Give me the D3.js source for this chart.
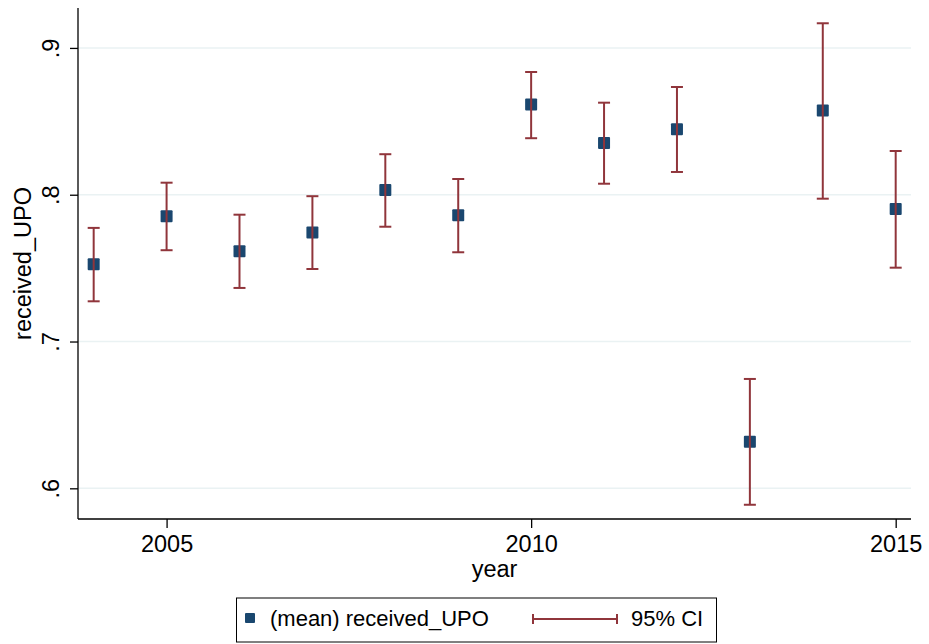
<!DOCTYPE html>
<html>
<head>
<meta charset="utf-8">
<script src="https://cdn.jsdelivr.net/npm/d3@7"></script>
<style>
  body { margin: 0; background: #fff; }
  svg text { font-family: "Liberation Sans", Arial, Helvetica, sans-serif; fill: #000; }
</style>
</head>
<body>
<svg id="chart" width="929" height="644"></svg>
<script>
// data
var years = [2004, 2005, 2006, 2007, 2008, 2009, 2010, 2011, 2012, 2013, 2014, 2015];
var means = [0.7526, 0.7853, 0.7615, 0.7742, 0.8032, 0.7860, 0.8614, 0.8353, 0.8446, 0.6318, 0.8573, 0.7903];
var ciLow = [0.7274, 0.7622, 0.7365, 0.7494, 0.7782, 0.7608, 0.8385, 0.8075, 0.8155, 0.5888, 0.7973, 0.7503];
var ciHigh = [0.7774, 0.8082, 0.7864, 0.7990, 0.8276, 0.8107, 0.8836, 0.8627, 0.8734, 0.6745, 0.9168, 0.8298];
var xTicks = [2005, 2010, 2015];
var yTicks = [0.6, 0.7, 0.8, 0.9];
var yTickLabels = [".6", ".7", ".8", ".9"];

var markerColor = "#1a476f",
    ciColor = "#90353b",
    gridColor = "#eaf2f3";

var plot = {left: 78, right: 911, top: 8, bottom: 519};

var x = d3.scaleLinear().domain([2003.785, 2015.21]).range([plot.left, plot.right]);
var y = d3.scaleLinear().domain([0.5791, 0.9272]).range([plot.bottom, plot.top]);

var svg = d3.select("#chart");

var data = years.map(function(yr, i) {
  return {year: yr, mean: means[i], lo: ciLow[i], hi: ciHigh[i]};
});

// gridlines
svg.append("g").selectAll("line")
  .data(yTicks)
  .enter().append("line")
  .attr("x1", plot.left).attr("x2", plot.right)
  .attr("y1", function(d) { return y(d); })
  .attr("y2", function(d) { return y(d); })
  .attr("stroke", gridColor)
  .attr("stroke-width", 1.6);

// y axis
var yAxis = d3.axisLeft(y)
  .tickValues(yTicks)
  .tickSize(8)
  .tickPadding(11)
  .tickFormat(function(d, i) { return yTickLabels[i]; });

var gy = svg.append("g")
  .attr("transform", "translate(" + plot.left + ",0)")
  .call(yAxis);
gy.select(".domain").attr("d", "M0," + plot.bottom + "V" + plot.top).attr("stroke", "#000").attr("stroke-width", 1.3);
gy.selectAll(".tick line").attr("stroke", "#000").attr("stroke-width", 1.3);
gy.selectAll(".tick text")
  .attr("font-size", "23.5px")
  .attr("x", null).attr("dy", null)
  .attr("text-anchor", "middle")
  .attr("transform", "translate(-19.5,0) rotate(-90)");

// x axis
var xAxis = d3.axisBottom(x)
  .tickValues(xTicks)
  .tickSize(9)
  .tickFormat(d3.format("d"));

var gx = svg.append("g")
  .attr("transform", "translate(0," + plot.bottom + ")")
  .call(xAxis);
gx.select(".domain").attr("d", "M" + plot.left + ",0H" + plot.right).attr("stroke", "#000").attr("stroke-width", 1.3);
gx.selectAll(".tick line").attr("stroke", "#000").attr("stroke-width", 1.3);
gx.selectAll(".tick text")
  .attr("font-size", "23.5px")
  .attr("y", 33).attr("dy", null);

// axis titles
svg.append("text")
  .attr("x", (plot.left + plot.right) / 2)
  .attr("y", 577)
  .attr("text-anchor", "middle")
  .attr("font-size", "23.5px")
  .text("year");

svg.append("text")
  .attr("transform", "translate(31," + ((plot.top + plot.bottom) / 2) + ") rotate(-90)")
  .attr("text-anchor", "middle")
  .attr("font-size", "23.5px")
  .text("received_UPO");

// mean markers
svg.append("g").selectAll("rect")
  .data(data)
  .enter().append("rect")
  .attr("x", function(d) { return x(d.year) - 6; })
  .attr("y", function(d) { return y(d.mean) - 6; })
  .attr("width", 12).attr("height", 12)
  .attr("rx", 1)
  .attr("fill", markerColor);

// confidence intervals
var ci = svg.append("g").attr("stroke", ciColor).attr("stroke-width", 2);
ci.selectAll(".stem")
  .data(data)
  .enter().append("line")
  .attr("x1", function(d) { return x(d.year); })
  .attr("x2", function(d) { return x(d.year); })
  .attr("y1", function(d) { return y(d.lo); })
  .attr("y2", function(d) { return y(d.hi); });
ci.selectAll(".capHi")
  .data(data)
  .enter().append("line")
  .attr("x1", function(d) { return x(d.year) - 6; })
  .attr("x2", function(d) { return x(d.year) + 6; })
  .attr("y1", function(d) { return y(d.hi); })
  .attr("y2", function(d) { return y(d.hi); });
ci.selectAll(".capLo")
  .data(data)
  .enter().append("line")
  .attr("x1", function(d) { return x(d.year) - 6; })
  .attr("x2", function(d) { return x(d.year) + 6; })
  .attr("y1", function(d) { return y(d.lo); })
  .attr("y2", function(d) { return y(d.lo); });

// legend
var legend = svg.append("g");
legend.append("rect")
  .attr("x", 236.5).attr("y", 598)
  .attr("width", 480).attr("height", 44)
  .attr("fill", "#fff")
  .attr("stroke", "#000")
  .attr("stroke-width", 1);
legend.append("rect")
  .attr("x", 245).attr("y", 613)
  .attr("width", 10).attr("height", 10)
  .attr("rx", 1)
  .attr("fill", markerColor);
legend.append("text")
  .attr("x", 270).attr("y", 626)
  .attr("font-size", "22px")
  .text("(mean) received_UPO");
legend.append("line")
  .attr("x1", 533).attr("x2", 617).attr("y1", 619).attr("y2", 619)
  .attr("stroke", ciColor).attr("stroke-width", 2);
legend.selectAll(".legCap")
  .data([533, 617])
  .enter().append("line")
  .attr("x1", function(d) { return d; }).attr("x2", function(d) { return d; })
  .attr("y1", 614).attr("y2", 624)
  .attr("stroke", ciColor).attr("stroke-width", 2);
legend.append("text")
  .attr("x", 631).attr("y", 626)
  .attr("font-size", "22px")
  .text("95% CI");
</script>
</body>
</html>
